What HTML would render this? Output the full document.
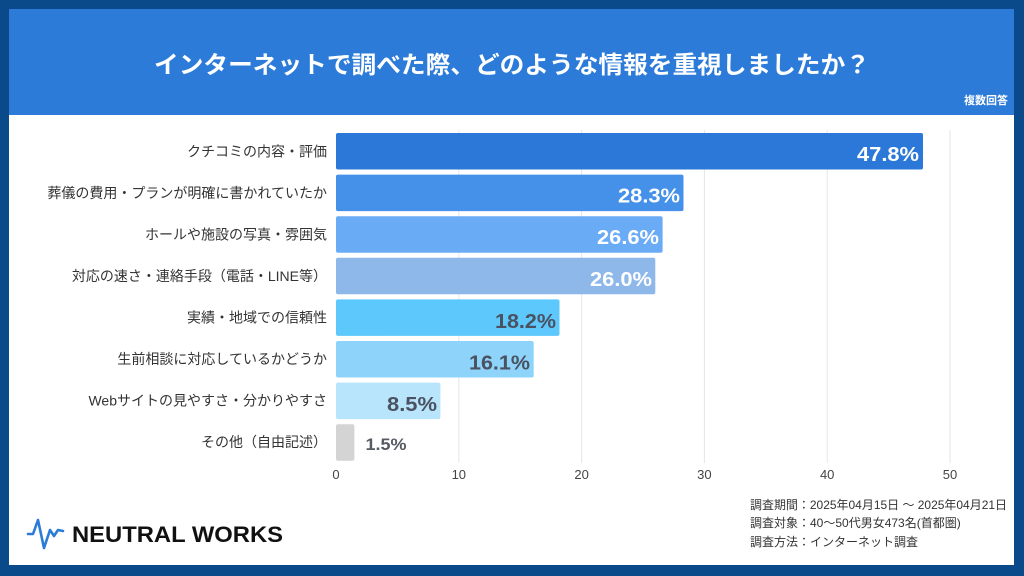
<!DOCTYPE html>
<html>
<head>
<meta charset="utf-8">
<style>
  html,body{margin:0;padding:0;background:#0b4a8a;}
  svg{display:block;}
  text{font-family:"Liberation Sans","Noto Sans CJK JP",sans-serif;}
</style>
</head>
<body>
<svg width="1024" height="576" viewBox="0 0 1024 576" xmlns="http://www.w3.org/2000/svg">
  <rect x="0" y="0" width="1024" height="576" fill="#0b4a8a"/>
  <rect x="9" y="9" width="1005" height="556" fill="#ffffff"/>
  <rect x="9" y="9" width="1005" height="106" fill="#2c7bd9"/>
  <text x="512" y="73" font-size="24" font-weight="bold" fill="#ffffff" text-anchor="middle" textLength="716" lengthAdjust="spacingAndGlyphs">インターネットで調べた際、どのような情報を重視しましたか？</text>
  <text x="1008" y="104" font-size="11" font-weight="bold" fill="#ffffff" text-anchor="end">複数回答</text>

  <!-- grid -->
  <g stroke="#e6e6e6" stroke-width="1">
    <line x1="458.8" y1="130" x2="458.8" y2="463"/>
    <line x1="581.6" y1="130" x2="581.6" y2="463"/>
    <line x1="704.4" y1="130" x2="704.4" y2="463"/>
    <line x1="827.2" y1="130" x2="827.2" y2="463"/>
    <line x1="950" y1="130" x2="950" y2="463"/>
  </g>

  <!-- bars -->
  <rect x="336" y="133" width="587" height="36.5" rx="2" fill="#2b78d8"/>
  <rect x="336" y="174.6" width="347.5" height="36.5" rx="2" fill="#4591ea"/>
  <rect x="336" y="216.2" width="326.6" height="36.5" rx="2" fill="#6aabf6"/>
  <rect x="336" y="257.8" width="319.3" height="36.5" rx="2" fill="#8fb8ea"/>
  <rect x="336" y="299.4" width="223.5" height="36.5" rx="2" fill="#5cc8fc"/>
  <rect x="336" y="341" width="197.7" height="36.5" rx="2" fill="#8ed4fa"/>
  <rect x="336" y="382.6" width="104.4" height="36.5" rx="2" fill="#b8e4fc"/>
  <rect x="336" y="424.2" width="18.4" height="36.5" rx="2" fill="#d4d4d4"/>

  <!-- value labels -->
  <g font-size="20" font-weight="bold" text-anchor="end">
    <text x="919" y="161" fill="#ffffff" textLength="62" lengthAdjust="spacingAndGlyphs">47.8%</text>
    <text x="680" y="202.6" fill="#ffffff" textLength="62" lengthAdjust="spacingAndGlyphs">28.3%</text>
    <text x="659" y="244.2" fill="#ffffff" textLength="62" lengthAdjust="spacingAndGlyphs">26.6%</text>
    <text x="652" y="285.8" fill="#ffffff" textLength="62" lengthAdjust="spacingAndGlyphs">26.0%</text>
    <text x="556" y="328" fill="#4a5261" textLength="61" lengthAdjust="spacingAndGlyphs">18.2%</text>
    <text x="530" y="369.6" fill="#4a5261" textLength="61" lengthAdjust="spacingAndGlyphs">16.1%</text>
    <text x="437" y="411.2" fill="#4a5261" textLength="50" lengthAdjust="spacingAndGlyphs">8.5%</text>
  </g>
  <text x="365.5" y="450" font-size="17" font-weight="bold" fill="#555a63" textLength="41" lengthAdjust="spacingAndGlyphs">1.5%</text>

  <!-- category labels -->
  <g font-size="14" fill="#333333" text-anchor="end">
    <text x="327" y="156.5">クチコミの内容・評価</text>
    <text x="327" y="198">葬儀の費用・プランが明確に書かれていたか</text>
    <text x="327" y="239.5">ホールや施設の写真・雰囲気</text>
    <text x="327" y="281">対応の速さ・連絡手段（電話・LINE等）</text>
    <text x="327" y="322.5">実績・地域での信頼性</text>
    <text x="327" y="364">生前相談に対応しているかどうか</text>
    <text x="327" y="405.5">Webサイトの見やすさ・分かりやすさ</text>
    <text x="327" y="447">その他（自由記述）</text>
  </g>

  <!-- axis ticks -->
  <g font-size="13" fill="#444444" text-anchor="middle">
    <text x="336" y="479">0</text>
    <text x="458.8" y="479">10</text>
    <text x="581.6" y="479">20</text>
    <text x="704.4" y="479">30</text>
    <text x="827.2" y="479">40</text>
    <text x="950" y="479">50</text>
  </g>

  <!-- logo -->
  <path d="M28,534 L33,534 L38,520 L44,548 L50,530 L54,536 L58,530 L63,531" fill="none" stroke="#2b7bd8" stroke-width="2.6" stroke-linejoin="round" stroke-linecap="round"/>
  <text x="72" y="542" font-size="22" font-weight="bold" fill="#111111" textLength="211" lengthAdjust="spacingAndGlyphs">NEUTRAL WORKS</text>

  <!-- footer notes -->
  <g font-size="12" fill="#333333">
    <text x="750" y="509" textLength="257" lengthAdjust="spacingAndGlyphs">調査期間：2025年04月15日 ～ 2025年04月21日</text>
    <text x="750" y="527">調査対象：40～50代男女473名(首都圏)</text>
    <text x="750" y="546">調査方法：インターネット調査</text>
  </g>
</svg>
</body>
</html>
